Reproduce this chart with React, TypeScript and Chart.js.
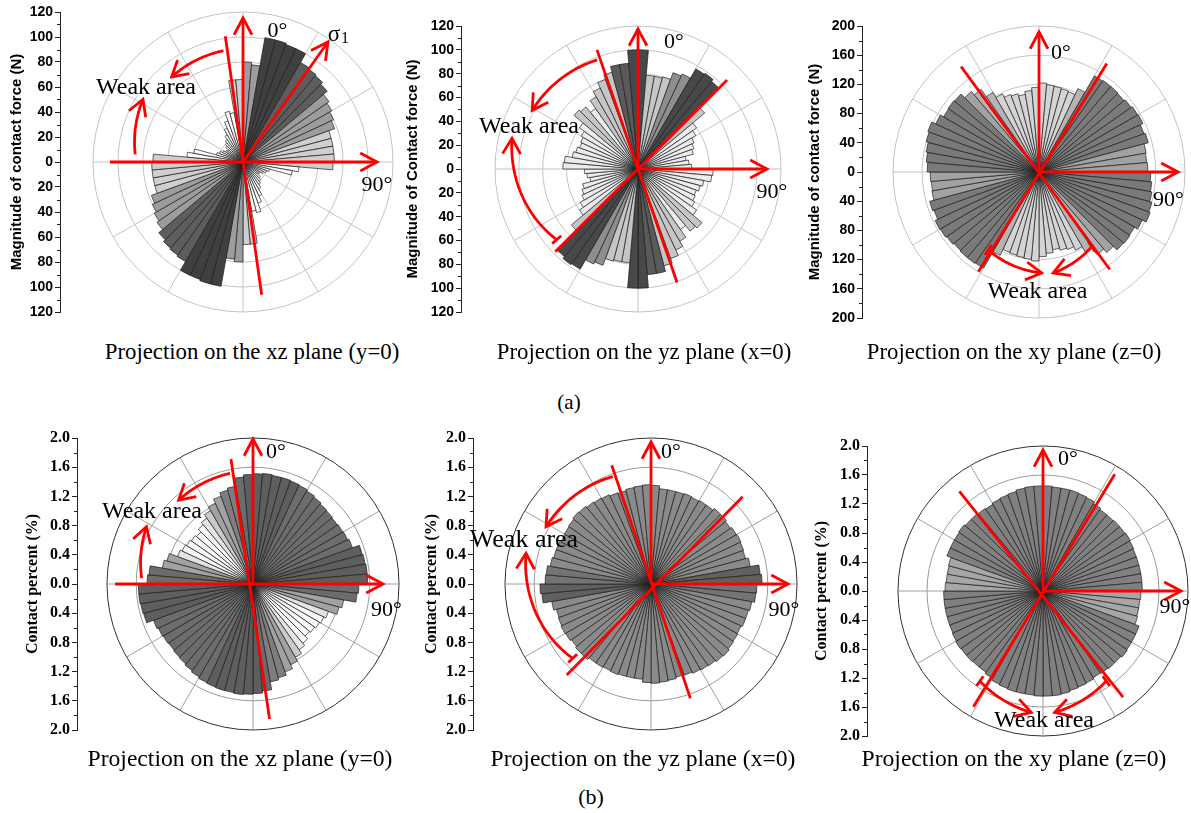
import React, { useEffect, useRef } from 'react';
import { Chart, registerables } from 'chart.js';

Chart.register(...registerables);

// 5° direction bins, clockwise from 0° (top)
const BIN_LABELS = [
  '0°', '5°', '10°', '15°', '20°', '25°', '30°', '35°', '40°', '45°', '50°', '55°',
  '60°', '65°', '70°', '75°', '80°', '85°', '90°', '95°', '100°', '105°', '110°', '115°',
  '120°', '125°', '130°', '135°', '140°', '145°', '150°', '155°', '160°', '165°', '170°', '175°',
  '180°', '185°', '190°', '195°', '200°', '205°', '210°', '215°', '220°', '225°', '230°', '235°',
  '240°', '245°', '250°', '255°', '260°', '265°', '270°', '275°', '280°', '285°', '290°', '295°',
  '300°', '305°', '310°', '315°', '320°', '325°', '330°', '335°', '340°', '345°', '350°', '355°',
];

// Rose values for the 0–180° bins; the roses are axial, so 180–360° repeats them.
// (a) magnitude of contact force (N)
const FORCE_XZ = [80, 78, 101, 101, 100, 100, 92, 91, 90, 88, 84, 82, 80, 78, 73, 73, 73, 73,
  72, 45, 40, 22, 20, 18, 16, 15, 18, 20, 22, 25, 30, 35, 42, 40, 66, 66];
const FORCE_YZ = [100, 79, 79, 80, 86, 88, 97, 98, 96, 73, 60, 56, 52, 50, 48, 41, 43, 45,
  63, 62, 56, 54, 52, 53, 55, 60, 70, 68, 62, 70, 75, 80, 84, 89, 89, 100];
const FORCE_XY = [122, 120, 119, 118, 117, 126, 152, 153, 153, 152, 154, 156, 157, 153, 155, 149, 148, 149,
  153, 155, 157, 160, 162, 156, 151, 152, 151, 144, 138, 126, 118, 113, 111, 108, 112, 116];
// (b) contact percent (%)
const PERCENT_XZ = [1.51, 1.52, 1.51, 1.51, 1.5, 1.49, 1.47, 1.45, 1.43, 1.42, 1.41, 1.42, 1.43, 1.45, 1.55, 1.56, 1.57, 1.57,
  1.45, 1.43, 1.26, 1.22, 1.1, 1.07, 1.05, 1.03, 1.01, 1.06, 1.1, 1.16, 1.22, 1.28, 1.33, 1.36, 1.47, 1.5];
const PERCENT_YZ = [1.35, 1.31, 1.31, 1.31, 1.32, 1.31, 1.32, 1.32, 1.35, 1.35, 1.33, 1.35, 1.36, 1.35, 1.34, 1.38, 1.5, 1.52,
  1.45, 1.44, 1.4, 1.38, 1.38, 1.36, 1.37, 1.38, 1.4, 1.39, 1.37, 1.36, 1.35, 1.33, 1.32, 1.34, 1.35, 1.36];
const PERCENT_XY = [1.45, 1.44, 1.44, 1.44, 1.43, 1.42, 1.39, 1.37, 1.37, 1.38, 1.38, 1.39, 1.38, 1.37, 1.37, 1.37, 1.37, 1.37,
  1.35, 1.34, 1.34, 1.35, 1.41, 1.41, 1.41, 1.42, 1.4, 1.4, 1.39, 1.38, 1.4, 1.41, 1.42, 1.44, 1.45, 1.45];

const CAPTIONS = ['Projection on the xz plane (y=0)', 'Projection on the yz plane (x=0)', 'Projection on the xy plane (z=0)'];

const SANS = '"Liberation Sans", Arial, sans-serif';
const SERIF = '"Liberation Serif", "Times New Roman", serif';
const RED = '#ff0000';

type Note =
  | { k: 'line'; a0: number; r0: number; a1: number; r1: number; head?: boolean }
  | { k: 'arc'; a0: number; a1: number; r0: number; r1: number; tick?: boolean }
  | { k: 'text'; dx: number; dy: number; t: string; size: number }
  | { k: 'sigma'; dx: number; dy: number };

interface PanelCfg {
  half: number[];
  max: number;
  step: number;
  minor: number;
  cx: number;
  cy: number;
  R: number;
  axisX: number;
  titleCX: number;
  title: string;
  serif: boolean;
  fmt: (v: number) => string;
  shade: (v: number) => string;
  ring: string;
  outer: string;
  spoke: string;
  notes: Note[];
}

const fmtInt = (v: number) => String(Math.round(Math.abs(v)));
const fmt1 = (v: number) => Math.abs(v).toFixed(1);

const PANELS: PanelCfg[] = [
  {
    half: FORCE_XZ, max: 120, step: 20, minor: 10, cx: 243, cy: 162, R: 150, axisX: 60, titleCX: 17,
    title: 'Magnitude of contact force (N)', serif: false, fmt: fmtInt,
    shade: (v) => (v >= 95 ? '#404040' : v >= 86 ? '#5d5d5d' : v >= 76 ? '#9c9c9c' : v >= 60 ? '#cfcfcf' : '#ffffff'),
    ring: '#c4c4c4', outer: '#c4c4c4', spoke: '#c4c4c4',
    notes: [
      { k: 'line', a0: 0, r0: 0, a1: 0, r1: 144, head: true },
      { k: 'line', a0: 270, r0: 133, a1: 90, r1: 134, head: true },
      { k: 'line', a0: 0, r0: 0, a1: 35.3, r1: 147, head: true },
      { k: 'line', a0: 352, r0: 127, a1: 172, r1: 134 },
      { k: 'arc', a0: -10, a1: -40, r0: 113, r1: 111 },
      { k: 'arc', a0: -86, a1: -58, r0: 108, r1: 118 },
      { k: 'text', dx: 34.5, dy: -131, t: '0°', size: 22 },
      { k: 'text', dx: 134, dy: 23, t: '90°', size: 22 },
      { k: 'sigma', dx: 91, dy: -127 },
      { k: 'text', dx: -97, dy: -74, t: 'Weak area', size: 24 },
    ],
  },
  {
    half: FORCE_YZ, max: 120, step: 20, minor: 10, cx: 638, cy: 169, R: 143, axisX: 461, titleCX: 413,
    title: 'Magnitude of Contact force (N)', serif: false, fmt: fmtInt,
    shade: (v) => (v >= 95 ? '#484848' : v >= 88.5 ? '#5a5a5a' : v >= 85 ? '#8e8e8e' : v >= 66 ? '#c6c6c6' : '#ececec'),
    ring: '#c4c4c4', outer: '#c4c4c4', spoke: '#c4c4c4',
    notes: [
      { k: 'line', a0: 0, r0: 0, a1: 0, r1: 140, head: true },
      { k: 'line', a0: 0, r0: 0, a1: 90, r1: 129, head: true },
      { k: 'line', a0: 341, r0: 126, a1: 161, r1: 120 },
      { k: 'line', a0: 45, r0: 126, a1: 225, r1: 117 },
      { k: 'arc', a0: -20.6, a1: -61, r0: 116.5, r1: 121 },
      { k: 'arc', a0: -131, a1: -76.3, r0: 107.7, r1: 129.7, tick: true },
      { k: 'text', dx: 36, dy: -127, t: '0°', size: 22 },
      { k: 'text', dx: 134, dy: 23, t: '90°', size: 22 },
      { k: 'text', dx: -109, dy: -42, t: 'Weak area', size: 24 },
    ],
  },
  {
    half: FORCE_XY, max: 200, step: 40, minor: 20, cx: 1039, cy: 172, R: 146, axisX: 862, titleCX: 815,
    title: 'Magnitude of contact force (N)', serif: false, fmt: fmtInt,
    shade: (v) => (v >= 150.5 ? '#7a7a7a' : v >= 140 ? '#a2a2a2' : v >= 124 ? '#b4b4b4' : '#d4d4d4'),
    ring: '#c4c4c4', outer: '#c4c4c4', spoke: '#c4c4c4',
    notes: [
      { k: 'line', a0: 0, r0: 0, a1: 0, r1: 140, head: true },
      { k: 'line', a0: 0, r0: 0, a1: 90, r1: 139, head: true },
      { k: 'line', a0: 323.5, r0: 131, a1: 144, r1: 120.5 },
      { k: 'line', a0: 32, r0: 128, a1: 211.3, r1: 116.7 },
      { k: 'arc', a0: 213, a1: 178.5, r0: 93, r1: 101, tick: true },
      { k: 'arc', a0: 144.8, a1: 172, r0: 91.4, r1: 102, tick: true },
      { k: 'text', dx: 22, dy: -119, t: '0°', size: 22 },
      { k: 'text', dx: 129.5, dy: 28, t: '90°', size: 22 },
      { k: 'text', dx: -1.5, dy: 120, t: 'Weak area', size: 24 },
    ],
  },
  {
    half: PERCENT_XZ, max: 2, step: 0.4, minor: 0.2, cx: 253, cy: 584, R: 146, axisX: 77, titleCX: 33,
    title: 'Contact percent (%)', serif: true, fmt: fmt1,
    shade: (v) => (v >= 1.5 ? '#5e5e5e' : v >= 1.4 ? '#6c6c6c' : v >= 1.3 ? '#7e7e7e' : v >= 1.22 ? '#a2a2a2' : v >= 1.14 ? '#cacaca' : v >= 1.08 ? '#e4e4e4' : '#f8f8f8'),
    ring: '#9a9a9a', outer: '#303030', spoke: '#a0a0a0',
    notes: [
      { k: 'line', a0: 0, r0: 0, a1: 0, r1: 145, head: true },
      { k: 'line', a0: 270, r0: 138, a1: 90, r1: 130, head: true },
      { k: 'line', a0: 350, r0: 127, a1: 173, r1: 136 },
      { k: 'arc', a0: -11.7, a1: -41.6, r0: 113, r1: 112 },
      { k: 'arc', a0: -87, a1: -61.7, r0: 111.5, r1: 121 },
      { k: 'text', dx: 23, dy: -132, t: '0°', size: 22 },
      { k: 'text', dx: 133.5, dy: 26, t: '90°', size: 22 },
      { k: 'text', dx: -101, dy: -72, t: 'Weak area', size: 24 },
    ],
  },
  {
    half: PERCENT_YZ, max: 2, step: 0.4, minor: 0.2, cx: 651, cy: 584, R: 146, axisX: 473, titleCX: 432,
    title: 'Contact percent (%)', serif: true, fmt: fmt1,
    shade: (v) => (v >= 1.48 ? '#606060' : v >= 1.43 ? '#747474' : '#8a8a8a'),
    ring: '#9a9a9a', outer: '#303030', spoke: '#a0a0a0',
    notes: [
      { k: 'line', a0: 0, r0: 0, a1: 0, r1: 142, head: true },
      { k: 'line', a0: 0, r0: 0, a1: 90, r1: 137, head: true },
      { k: 'line', a0: 341.7, r0: 125, a1: 161, r1: 121 },
      { k: 'line', a0: 46.4, r0: 126.6, a1: 222.8, r1: 124 },
      { k: 'arc', a0: -19.6, a1: -61.4, r0: 114, r1: 119.6 },
      { k: 'arc', a0: -133.5, a1: -76.2, r0: 108, r1: 128.7, tick: true },
      { k: 'text', dx: 20, dy: -132, t: '0°', size: 22 },
      { k: 'text', dx: 133, dy: 26, t: '90°', size: 22 },
      { k: 'text', dx: -127, dy: -44, t: 'Weak area', size: 26 },
    ],
  },
  {
    half: PERCENT_XY, max: 2, step: 0.4, minor: 0.2, cx: 1043, cy: 591, R: 145, axisX: 867, titleCX: 822,
    title: 'Contact percent (%)', serif: true, fmt: fmt1,
    shade: (v) => (v < 1.355 ? '#a6a6a6' : '#808080'),
    ring: '#9a9a9a', outer: '#303030', spoke: '#a0a0a0',
    notes: [
      { k: 'line', a0: 0, r0: 0, a1: 0, r1: 141, head: true },
      { k: 'line', a0: 0, r0: 0, a1: 90, r1: 138, head: true },
      { k: 'line', a0: 320, r0: 130, a1: 143, r1: 133 },
      { k: 'line', a0: 31.6, r0: 137, a1: 211, r1: 135 },
      { k: 'arc', a0: 215, a1: 185.5, r0: 110, r1: 122, tick: true },
      { k: 'arc', a0: 144.9, a1: 174.5, r0: 110, r1: 122, tick: true },
      { k: 'text', dx: 25, dy: -131.5, t: '0°', size: 22 },
      { k: 'text', dx: 132, dy: 16.5, t: '90°', size: 22 },
      { k: 'text', dx: 1, dy: 130, t: 'Weak area', size: 24 },
    ],
  },
];

function polar(cx: number, cy: number, aDeg: number, r: number) {
  const t = (aDeg * Math.PI) / 180;
  return { x: cx + r * Math.sin(t), y: cy - r * Math.cos(t) };
}

function arrowHead(ctx: CanvasRenderingContext2D, from: { x: number; y: number }, tip: { x: number; y: number }, len = 19, spreadDeg = 28) {
  const ang = Math.atan2(tip.y - from.y, tip.x - from.x);
  const s = (spreadDeg * Math.PI) / 180;
  ctx.beginPath();
  ctx.moveTo(tip.x - len * Math.cos(ang - s), tip.y - len * Math.sin(ang - s));
  ctx.lineTo(tip.x, tip.y);
  ctx.lineTo(tip.x - len * Math.cos(ang + s), tip.y - len * Math.sin(ang + s));
  ctx.stroke();
}

function drawNotes(ctx: CanvasRenderingContext2D, cx: number, cy: number, notes: Note[]) {
  ctx.save();
  ctx.strokeStyle = RED;
  ctx.lineWidth = 2.8;
  ctx.lineCap = 'butt';
  ctx.lineJoin = 'miter';
  for (const n of notes) {
    if (n.k === 'line') {
      const p0 = polar(cx, cy, n.a0, n.r0);
      const p1 = polar(cx, cy, n.a1, n.r1);
      ctx.beginPath();
      ctx.moveTo(p0.x, p0.y);
      ctx.lineTo(p1.x, p1.y);
      ctx.stroke();
      if (n.head) arrowHead(ctx, p0, p1);
    } else if (n.k === 'arc') {
      const N = 40;
      const pts: { x: number; y: number }[] = [];
      for (let i = 0; i <= N; i++) {
        const f = i / N;
        pts.push(polar(cx, cy, n.a0 + (n.a1 - n.a0) * f, n.r0 + (n.r1 - n.r0) * f));
      }
      ctx.beginPath();
      ctx.moveTo(pts[0].x, pts[0].y);
      for (let i = 1; i < pts.length; i++) ctx.lineTo(pts[i].x, pts[i].y);
      ctx.stroke();
      arrowHead(ctx, pts[N - 3], pts[N], 18, 30);
      if (n.tick) {
        const t0 = polar(cx, cy, n.a0, n.r0 - 6);
        const t1 = polar(cx, cy, n.a0, n.r0 + 6);
        ctx.beginPath();
        ctx.moveTo(t0.x, t0.y);
        ctx.lineTo(t1.x, t1.y);
        ctx.stroke();
      }
    }
  }
  ctx.fillStyle = '#000';
  ctx.textAlign = 'center';
  ctx.textBaseline = 'middle';
  for (const n of notes) {
    if (n.k === 'text') {
      ctx.font = `${n.size}px ${SERIF}`;
      ctx.fillText(n.t, cx + n.dx, cy + n.dy);
    } else if (n.k === 'sigma') {
      ctx.font = `23px ${SERIF}`;
      ctx.fillText('σ', cx + n.dx, cy + n.dy);
      ctx.font = `16px ${SERIF}`;
      ctx.fillText('1', cx + n.dx + 11, cy + n.dy + 4);
    }
  }
  ctx.restore();
}

const PT = 22;
const PB = 22;

function RosePanel({ p }: { p: PanelCfg }) {
  const ref = useRef<HTMLCanvasElement>(null);
  const titleSize = p.serif ? 16 : 15;
  const tickSize = p.serif ? 16 : 14;
  const axw = Math.round(p.axisX - p.titleCX + 0.6 * titleSize + 2);
  const W = 2 * (p.cx - p.axisX);
  const left = p.axisX - axw;
  const top = p.cy - p.R - PT;
  const width = axw + W;
  const height = 2 * p.R + PT + PB;

  useEffect(() => {
    if (!ref.current) return;
    const values = [...p.half, ...p.half];
    const family = p.serif ? SERIF : SANS;
    const chart = new Chart(ref.current, {
      type: 'polarArea',
      data: {
        labels: BIN_LABELS,
        datasets: [
          {
            data: values,
            backgroundColor: values.map(p.shade),
            borderColor: '#1c1c1c',
            borderWidth: 0.7,
          },
        ],
      },
      options: {
        responsive: false,
        animation: false,
        devicePixelRatio: 1,
        layout: { padding: { top: PT, bottom: PB, left: 0, right: 0 } },
        plugins: { legend: { display: false }, tooltip: { enabled: false } },
        scales: {
          r: {
            type: 'radialLinear',
            min: 0,
            max: p.max,
            beginAtZero: true,
            startAngle: 0,
            ticks: { display: false, stepSize: p.step },
            grid: {
              circular: true,
              lineWidth: 1,
              color: (c: any) => (c.tick && Math.abs(c.tick.value - p.max) < 1e-6 ? p.outer : p.ring),
            },
            angleLines: { display: false },
            pointLabels: { display: false },
          },
          y: {
            type: 'linear',
            position: 'left',
            min: -p.max,
            max: p.max,
            afterFit: (s: any) => {
              s.width = axw;
            },
            ticks: {
              stepSize: p.step,
              autoSkip: false,
              padding: 2,
              color: '#000',
              font: { family, size: tickSize, weight: 'bold' },
              callback: (v: any) => p.fmt(Number(v)),
            },
            grid: { drawOnChartArea: false, drawTicks: true, tickLength: 5, color: '#222', lineWidth: 1 },
            border: { display: true, color: '#222', width: 1 },
            title: {
              display: true,
              text: p.title,
              color: '#000',
              font: { family, size: titleSize, weight: 'bold' },
              padding: { top: 2, bottom: 0 },
            },
          },
        },
      } as any,
      plugins: [
        {
          id: 'spokes',
          beforeDatasetsDraw(c: any) {
            const s = c.scales.r;
            const ctx = c.ctx;
            ctx.save();
            ctx.strokeStyle = p.spoke;
            ctx.lineWidth = 1;
            for (let k = 0; k < 12; k++) {
              const q = polar(s.xCenter, s.yCenter, k * 30, s.drawingArea);
              ctx.beginPath();
              ctx.moveTo(s.xCenter, s.yCenter);
              ctx.lineTo(q.x, q.y);
              ctx.stroke();
            }
            ctx.restore();
          },
        },
        {
          id: 'minorTicksAndNotes',
          afterDraw(c: any) {
            const ctx = c.ctx;
            const y = c.scales.y;
            const n = Math.round((2 * p.max) / p.minor);
            const ratio = Math.round(p.step / p.minor);
            ctx.save();
            ctx.strokeStyle = '#222';
            ctx.lineWidth = 1;
            for (let i = 0; i <= n; i++) {
              if (i % ratio === 0) continue;
              const py = Math.round(y.getPixelForValue(-p.max + i * p.minor)) + 0.5;
              ctx.beginPath();
              ctx.moveTo(y.right, py);
              ctx.lineTo(y.right - 3, py);
              ctx.stroke();
            }
            ctx.restore();
            const s = c.scales.r;
            drawNotes(ctx, s.xCenter, s.yCenter, p.notes);
          },
        },
      ],
    });
    return () => chart.destroy();
  }, []);

  return (
    <canvas
      ref={ref}
      width={width}
      height={height}
      style={{ position: 'absolute', left, top, width, height }}
    />
  );
}

const captionStyle = (x: number, y: number, size: number): React.CSSProperties => ({
  position: 'absolute',
  left: x,
  top: y,
  transform: 'translate(-50%, -50%)',
  fontFamily: SERIF,
  fontSize: size,
  lineHeight: 1,
  whiteSpace: 'nowrap',
  color: '#000',
});

export default function App() {
  return (
    <div
      style={{
        position: 'absolute',
        left: 0,
        top: 0,
        width: 1191,
        height: 813,
        overflow: 'hidden',
        background: '#fff',
      }}
    >
      {PANELS.map((p, i) => (
        <RosePanel key={i} p={p} />
      ))}
      <div style={captionStyle(252, 352, 22.8)}>{CAPTIONS[0]}</div>
      <div style={captionStyle(644, 352, 22.8)}>{CAPTIONS[1]}</div>
      <div style={captionStyle(1014, 352, 22.8)}>{CAPTIONS[2]}</div>
      <div style={captionStyle(569, 402, 21)}>(a)</div>
      <div style={captionStyle(240, 759, 23.6)}>{CAPTIONS[0]}</div>
      <div style={captionStyle(643, 759, 23.6)}>{CAPTIONS[1]}</div>
      <div style={captionStyle(1014, 759, 23.6)}>{CAPTIONS[2]}</div>
      <div style={captionStyle(591, 797, 22)}>(b)</div>
    </div>
  );
}
